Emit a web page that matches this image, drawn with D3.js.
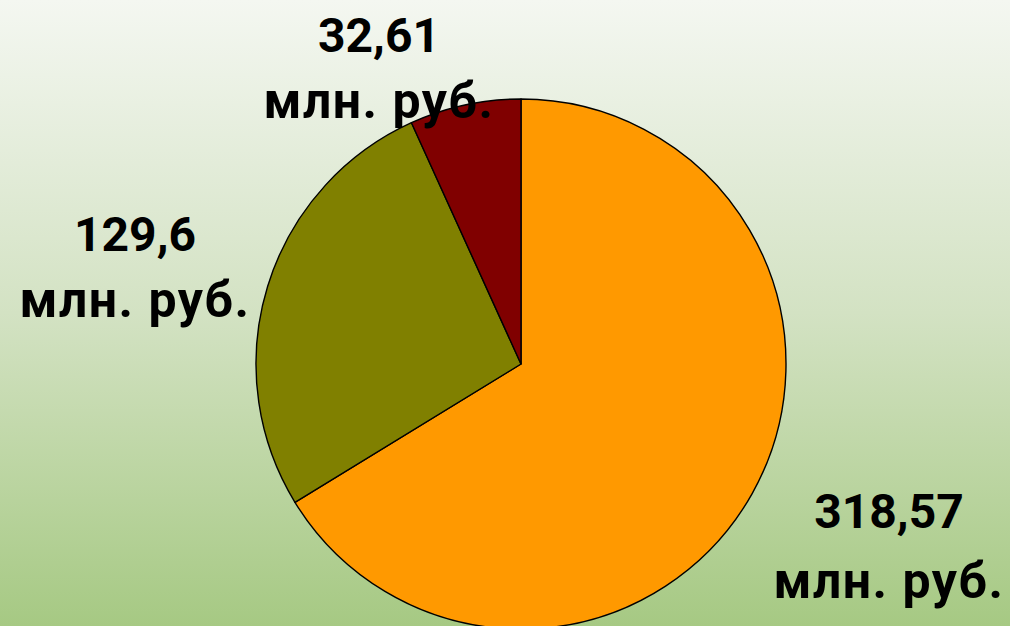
<!DOCTYPE html>
<html>
<head>
<meta charset="utf-8">
<script src="https://cdn.jsdelivr.net/npm/d3@7"></script>
<style>
  html, body { margin: 0; padding: 0; overflow: hidden; }
  text { font-family: Roboto, "Liberation Sans", sans-serif; font-weight: bold; fill: #000; }
</style>
</head>
<body>
<div id="chart"></div>
<script>
var values = [318.57, 129.6, 32.61];
var valueLabels = ["318,57", "129,6", "32,61"];
var unitLabel = "млн. руб.";
var colors = ["#ff9900", "#808000", "#800000"];

var width = 1010, height = 626;
var cx = 521, cy = 364, radius = 265;

// label anchors (centre x, first baseline, line gap) per slice
var labelLayout = [
    {x: 889, y: 528, gap: 70},
    {x: 135, y: 251, gap: 66},
    {x: 379, y: 52, gap: 66}
];

var svg = d3.select("#chart").append("svg")
    .attr("width", width)
    .attr("height", height);

var grad = svg.append("defs").append("linearGradient")
    .attr("id", "bg")
    .attr("x1", 0).attr("y1", 0).attr("x2", 0).attr("y2", 1);
grad.append("stop").attr("offset", "0%").attr("stop-color", "#f4f7f1");
grad.append("stop").attr("offset", "50%").attr("stop-color", "#d3e2c3");
grad.append("stop").attr("offset", "100%").attr("stop-color", "#a6c983");

svg.append("rect")
    .attr("width", width)
    .attr("height", height)
    .attr("fill", "url(#bg)");

var pie = d3.pie().sort(null).value(function(d) { return d; });
var arc = d3.arc().innerRadius(0).outerRadius(radius);

var g = svg.append("g")
    .attr("transform", "translate(" + cx + "," + cy + ")");

g.selectAll("path")
    .data(pie(values))
    .enter().append("path")
    .attr("d", arc)
    .attr("fill", function(d, i) { return colors[i]; })
    .attr("stroke", "#000")
    .attr("stroke-width", 1.4)
    .attr("stroke-linejoin", "round");

var labels = svg.selectAll("g.label")
    .data(values)
    .enter().append("g")
    .attr("class", "label");

labels.append("text")
    .attr("x", function(d, i) { return labelLayout[i].x; })
    .attr("y", function(d, i) { return labelLayout[i].y; })
    .attr("text-anchor", "middle")
    .style("font-size", "48px")
    .text(function(d, i) { return valueLabels[i]; });

labels.append("text")
    .attr("x", function(d, i) { return labelLayout[i].x; })
    .attr("y", function(d, i) { return labelLayout[i].y + labelLayout[i].gap; })
    .attr("text-anchor", "middle")
    .style("font-size", "50px")
    .style("letter-spacing", "1.5px")
    .text(unitLabel);
</script>
</body>
</html>
